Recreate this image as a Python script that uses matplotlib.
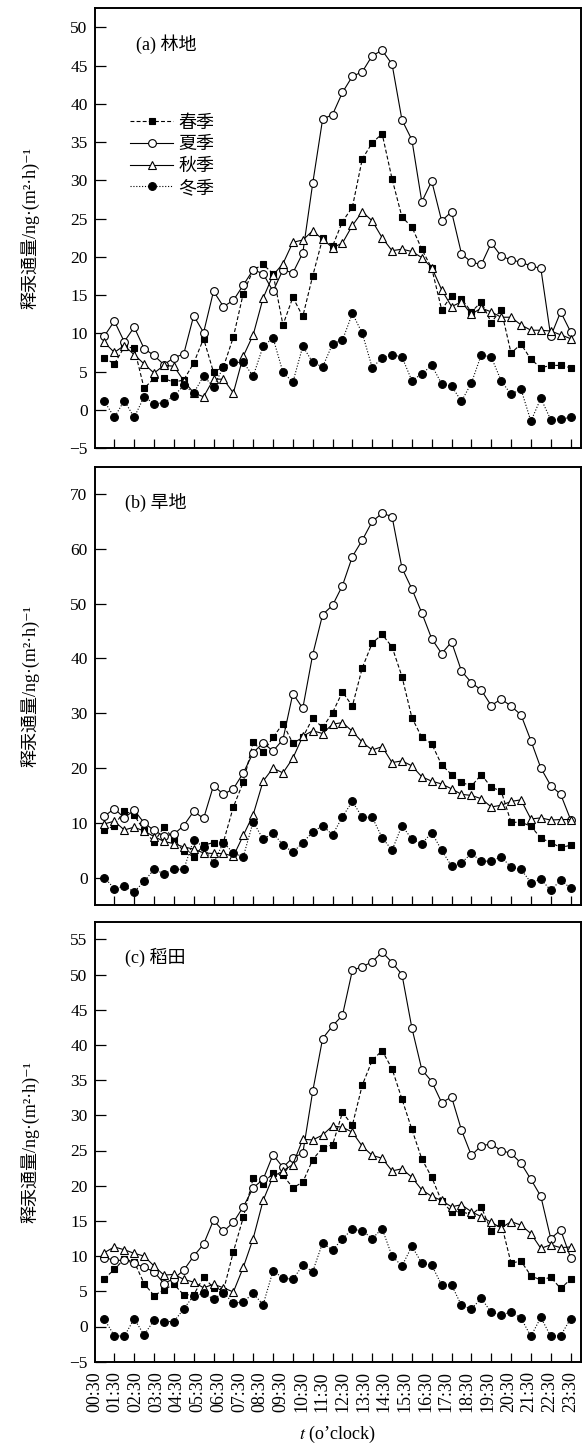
import numpy as np
import matplotlib
matplotlib.use('Agg')
import matplotlib.pyplot as plt

plt.rcParams['font.family'] = ['Liberation Serif', 'DejaVu Serif', 'Noto Sans CJK SC']
plt.rcParams['mathtext.fontset'] = 'stix'

# 时间轴标签 (每小时一个) 和 48 个半小时观测点
time_labels = ['%02d:30' % h for h in range(24)]
n_points = 48

season_names = ['春季', '夏季', '秋季', '冬季']

# (a) 林地
spring_a = [6.8, 6.0, 8.2, 8.1, 2.8, 4.1, 4.1, 3.6, 3.9, 6.1, 9.3, 4.9, 5.6, 9.5, 15.2, 18.3,
            19.0, 17.8, 11.1, 14.7, 12.2, 17.5, 22.4, 21.4, 24.6, 26.5, 32.8, 34.9, 36.1, 30.2,
            25.2, 23.9, 21.0, 18.5, 13.1, 14.9, 14.5, 12.8, 14.1, 11.4, 13.1, 7.4, 8.6, 6.6,
            5.5, 5.8, 5.8, 5.5]
summer_a = [9.65, 11.6, 8.9, 10.8, 8.0, 7.1, 5.9, 6.8, 7.3, 12.3, 10.1, 15.5, 13.5, 14.3, 16.3,
            18.3, 17.8, 15.5, 18.3, 17.9, 20.5, 29.6, 38.0, 38.6, 41.5, 43.6, 44.2, 46.3, 47.0,
            45.2, 37.9, 35.3, 27.2, 29.9, 24.7, 25.9, 20.4, 19.3, 19.0, 21.8, 20.1, 19.6, 19.3,
            18.8, 18.5, 9.6, 12.8, 10.2]
autumn_a = [8.8, 7.5, 8.4, 7.2, 6.0, 4.8, 5.8, 5.7, 3.8, 2.2, 1.7, 4.0, 4.0, 2.2, 7.0, 9.8,
            14.6, 17.6, 19.1, 21.9, 22.2, 23.4, 22.3, 21.2, 21.8, 24.1, 25.9, 24.7, 22.5, 20.8,
            21.0, 20.7, 19.9, 18.6, 15.7, 13.5, 14.1, 12.5, 13.3, 12.8, 12.1, 12.1, 11.1, 10.4,
            10.4, 10.3, 9.8, 9.3]
winter_a = [1.1, -1.0, 1.2, -1.0, 1.7, 0.8, 0.9, 1.8, 3.2, 2.2, 4.4, 3.0, 5.6, 6.2, 6.2, 4.4,
            8.3, 9.4, 4.9, 3.6, 8.3, 6.2, 5.6, 8.6, 9.1, 12.6, 10.0, 5.5, 6.8, 7.2, 6.9, 3.8,
            4.7, 5.8, 3.4, 3.1, 1.1, 3.5, 7.2, 6.9, 3.8, 2.0, 2.7, -1.5, 1.5, -1.3, -1.2, -1.0]

# (b) 旱地
spring_b = [8.6, 9.5, 12.2, 11.4, 8.6, 6.5, 9.2, 7.0, 4.8, 3.8, 5.9, 6.4, 6.5, 12.9, 17.4, 24.7,
            22.9, 25.6, 28.1, 24.5, 25.6, 29.1, 27.4, 30.1, 33.9, 31.3, 38.3, 42.8, 44.4, 42.1,
            36.7, 29.2, 25.6, 24.4, 20.6, 18.8, 17.4, 16.7, 18.8, 16.5, 15.8, 10.1, 10.1, 9.4,
            7.2, 6.4, 5.5, 5.9]
summer_b = [11.2, 12.6, 10.9, 12.3, 10.0, 8.6, 7.6, 7.9, 9.5, 12.1, 10.8, 16.8, 15.2, 16.2, 19.1,
            22.8, 24.6, 23.1, 25.2, 33.6, 30.9, 40.7, 48.0, 49.7, 53.3, 58.6, 61.6, 65.0, 66.5,
            65.9, 56.5, 52.7, 48.3, 43.6, 40.9, 43.0, 37.7, 35.6, 34.2, 31.4, 32.6, 31.3, 29.7,
            25.0, 20.0, 16.8, 15.2, 10.6]
autumn_b = [9.8, 10.3, 8.7, 9.2, 8.5, 7.5, 6.6, 6.2, 5.6, 5.2, 4.5, 4.4, 4.4, 3.9, 7.7, 11.5,
            17.6, 20.0, 19.1, 21.8, 25.8, 26.8, 26.3, 28.0, 28.3, 26.7, 24.7, 23.3, 23.9, 21.0,
            21.3, 20.4, 18.4, 17.6, 17.1, 16.2, 15.2, 15.0, 14.4, 12.9, 13.2, 13.9, 14.2, 10.7,
            10.9, 10.5, 10.6, 10.6]
winter_b = [0.0, -2.0, -1.6, -2.6, -0.7, 1.5, 0.7, 1.5, 1.5, 6.9, 5.6, 2.7, 6.4, 4.5, 3.8, 10.2,
            7.0, 8.1, 6.0, 4.6, 6.4, 8.3, 9.5, 7.8, 11.1, 13.9, 11.0, 11.0, 7.3, 5.0, 9.5, 7.0,
            6.2, 8.2, 5.0, 2.1, 2.7, 4.4, 3.0, 3.0, 3.8, 1.9, 1.5, -0.9, -0.3, -2.3, -0.5, -1.9]

# (c) 稻田
spring_c = [6.8, 8.1, 9.6, 9.2, 6.1, 4.4, 5.2, 6.0, 4.5, 4.5, 7.0, 5.5, 5.1, 10.6, 15.5, 21.1,
            20.3, 21.8, 21.5, 19.7, 20.5, 23.7, 25.4, 25.8, 30.4, 28.6, 34.3, 37.8, 39.2, 36.6,
            32.3, 28.0, 23.8, 21.2, 17.8, 16.3, 16.3, 15.9, 17.0, 13.5, 14.7, 9.0, 9.3, 7.2,
            6.6, 7.0, 5.4, 6.7]
summer_c = [9.8, 9.4, 9.4, 9.0, 8.4, 7.8, 6.1, 6.8, 8.0, 10.0, 11.7, 15.1, 13.5, 14.8, 17.0,
            19.7, 20.9, 24.4, 22.6, 24.0, 24.6, 33.4, 40.9, 42.7, 44.2, 50.6, 51.1, 51.8, 53.2,
            51.7, 50.0, 42.4, 36.5, 34.8, 31.8, 32.6, 27.9, 24.3, 25.7, 25.9, 25.0, 24.6, 23.2,
            20.9, 18.5, 12.5, 13.7, 9.8]
autumn_c = [10.5, 11.3, 10.9, 10.4, 10.0, 8.6, 7.3, 7.4, 6.7, 6.3, 5.5, 6.0, 5.5, 4.9, 8.4, 12.5,
            17.9, 21.3, 22.1, 23.0, 26.6, 26.5, 27.2, 28.5, 28.3, 27.6, 25.6, 24.3, 23.9, 22.1,
            22.4, 21.2, 19.4, 18.5, 17.9, 17.0, 17.3, 16.3, 15.6, 14.8, 14.0, 14.9, 14.4, 13.2,
            11.1, 11.6, 11.2, 11.3]
winter_c = [1.0, -1.3, -1.4, 1.1, -1.2, 0.9, 0.7, 0.7, 2.5, 4.4, 4.7, 3.9, 4.8, 3.3, 3.5, 4.7,
            3.1, 7.9, 6.9, 6.7, 8.7, 7.8, 11.9, 10.8, 12.5, 13.8, 13.6, 12.5, 13.9, 10.0, 8.6,
            11.4, 9.0, 8.7, 5.9, 5.9, 3.0, 2.5, 4.0, 2.0, 1.7, 2.0, 1.2, -1.4, 1.3, -1.4, -1.3, 1.1]

panels = [
    ('(a) 林地', [spring_a, summer_a, autumn_a, winter_a], (-5, 52.5), np.arange(-5, 51, 5)),
    ('(b) 旱地', [spring_b, summer_b, autumn_b, winter_b], (-5, 75), np.arange(0, 71, 10)),
    ('(c) 稻田', [spring_c, summer_c, autumn_c, winter_c], (-5, 57.5), np.arange(-5, 56, 5)),
]

# 四个季节的线型和符号
styles = [
    dict(ls=(0, (3.5, 2)), marker='s', mfc='black', ms=4.6),
    dict(ls='-', marker='o', mfc='white', ms=5.6),
    dict(ls='-', marker='^', mfc='white', ms=6.2),
    dict(ls=(0, (1, 1.6)), marker='o', mfc='black', ms=5.6),
]

W, H = 582, 1443
fig = plt.figure(figsize=(W / 100, H / 100), dpi=100)

left, right = 94.5, 580.5
boxes = [(8.3, 448.0), (466.7, 905.0), (921.7, 1361.7)]

x = np.arange(1, n_points + 1)

for i, (title, series, ylim, yticks) in enumerate(panels):
    top, bottom = boxes[i]
    ax = fig.add_axes([left / W, 1 - bottom / H, (right - left) / W, (bottom - top) / H])
    for s, name, st in zip(series, season_names, styles):
        ax.plot(x, s, color='black', lw=0.8, ls=st['ls'], marker=st['marker'],
                mfc=st['mfc'], mec='black', mew=0.8, ms=st['ms'], label=name)
    ax.set_xlim(0, n_points + 1)
    ax.set_ylim(*ylim)
    ax.set_yticks(yticks)
    ax.set_yticklabels(['−5' if v < 0 else str(v) for v in yticks])
    ax.set_xticks(np.arange(2, n_points + 1, 2))
    ax.set_xticklabels([])
    ax.tick_params(axis='y', direction='in', length=8, width=0.9, labelsize=12.5, pad=5,
                   right=False)
    ax.tick_params(axis='x', direction='in', length=6.5, width=0.9, top=False)
    for sp in ax.spines.values():
        sp.set_linewidth(1.4)
    ax.text(0.085 if i == 0 else 0.062, 0.918, title, transform=ax.transAxes,
            fontsize=13, va='center', ha='left')
    ax.set_ylabel('释汞通量/ng·(m²·h)⁻¹', fontsize=13)
    ax.yaxis.set_label_coords(-0.112, 0.5)
    if i == 0:
        ax.legend(loc='upper left', bbox_to_anchor=(0.074, 0.758), frameon=False,
                  fontsize=13, handlelength=2.35, handletextpad=0.3, labelspacing=0.26,
                  borderpad=0, borderaxespad=0)
    if i == 2:
        # 时间标签均匀铺在 0 到 48 之间
        ax.xaxis.remove_overlapping_locs = False
        ax.set_xticks(np.linspace(0, n_points, 24), minor=True)
        ax.set_xticklabels(time_labels, minor=True, rotation=90, fontsize=13)
        ax.tick_params(axis='x', which='minor', length=0, pad=7)
        ax.set_xlabel(r'$t$ (o’clock)', fontsize=13, labelpad=8)

fig.savefig('out.png', dpi=100)
